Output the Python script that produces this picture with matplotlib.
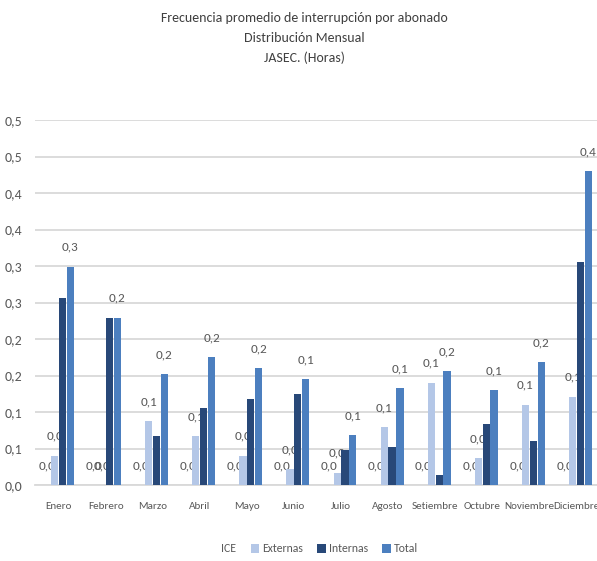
import matplotlib
matplotlib.use("Agg")
import matplotlib.pyplot as plt
import numpy as np
from decimal import Decimal, ROUND_HALF_UP

plt.rcParams['font.family'] = ['Carlito', 'DejaVu Sans']

meses = ["Enero", "Febrero", "Marzo", "Abril", "Mayo", "Junio", "Julio",
         "Agosto", "Setiembre", "Octubre", "Noviembre", "Diciembre"]
ice = [0.0] * 12
externas = [0.040, 0.0, 0.087, 0.067, 0.040, 0.022, 0.017, 0.079, 0.140, 0.037, 0.110, 0.121]
internas = [0.256, 0.229, 0.067, 0.105, 0.118, 0.125, 0.048, 0.052, 0.014, 0.083, 0.060, 0.306]
total = [0.299, 0.229, 0.152, 0.175, 0.160, 0.145, 0.068, 0.133, 0.156, 0.130, 0.168, 0.430]

y_ticks = [0.0, 0.05, 0.10, 0.15, 0.20, 0.25, 0.30, 0.35, 0.40, 0.45, 0.50]
y_tick_labels = ["0,0", "0,1", "0,1", "0,2", "0,2", "0,3", "0,3", "0,4", "0,4", "0,5", "0,5"]

series = [
    ("ICE", ice, "#ffffff", True),
    ("Externas", externas, "#b4c7e7", True),
    ("Internas", internas, "#284878", False),
    ("Total", total, "#4c7fbf", True),
]

GREY = "#595959"


def fmt(v):
    d = Decimal(str(v)).quantize(Decimal("0.1"), rounding=ROUND_HALF_UP)
    return str(d).replace(".", ",")


fig = plt.figure(figsize=(5.97, 5.61), dpi=100)
ax = fig.add_axes([35 / 597, 76 / 561, 565 / 597, 365 / 561])

x = np.arange(len(meses))
w = 1 / 6
for k, (name, vals, color, labelled) in enumerate(series):
    pos = x + (k - 1.5) * w
    ax.bar(pos, vals, width=w * 0.92, color=color, label=name, zorder=3)
    if labelled:
        for px, v in zip(pos, vals):
            ax.annotate(fmt(v), (px, v), xytext=(0, 14), textcoords="offset points",
                        ha="center", va="center", fontsize=9.5, color=GREY)

ax.set_xlim(-0.5, len(meses) - 0.5)
ax.set_ylim(0, 0.5)
ax.set_yticks(y_ticks)
ax.set_yticklabels(y_tick_labels)
ax.set_xticks(x)
ax.set_xticklabels(meses)
ax.tick_params(axis="y", length=0, pad=9, labelsize=10, labelcolor=GREY)
ax.tick_params(axis="x", length=0, pad=12, labelsize=8, labelcolor=GREY)
ax.grid(axis="y", color="#d9d9d9", linewidth=1.3, zorder=0)
for s in ["top", "right", "left"]:
    ax.spines[s].set_visible(False)
ax.spines["bottom"].set_color("#d9d9d9")
ax.spines["bottom"].set_linewidth(1.3)

TITLE = "#404040"
fig.text(0.51, 1 - 18 / 561, "Frecuencia promedio de interrupción por abonado",
         ha="center", va="center", fontsize=10, color=TITLE)
fig.text(0.51, 1 - 38 / 561, "Distribución Mensual",
         ha="center", va="center", fontsize=10, color=TITLE)
fig.text(0.51, 1 - 58 / 561, "JASEC. (Horas)",
         ha="center", va="center", fontsize=10, color=TITLE)

fig.legend(loc="center", bbox_to_anchor=(314 / 597, 1 - 549 / 561), ncol=4,
           frameon=False, fontsize=8.5, labelcolor=GREY, handlelength=0.7,
           handleheight=0.7, handletextpad=0.3, columnspacing=1.2)

fig.savefig("out.png", dpi=100)
